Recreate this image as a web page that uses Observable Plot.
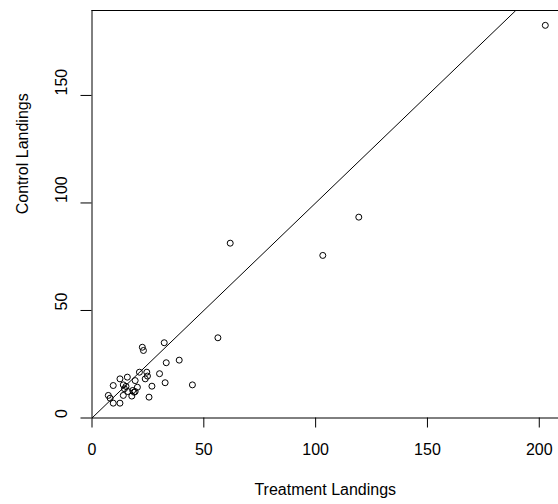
<!DOCTYPE html>
<html>
<head>
<meta charset="utf-8">
<script src="https://cdn.jsdelivr.net/npm/d3@7"></script>
<script src="https://cdn.jsdelivr.net/npm/@observablehq/plot@0.6"></script>
<style>
  html, body { margin: 0; padding: 0; background: #fff; }
  #chart { width: 558px; height: 504px; }
</style>
</head>
<body>
<div id="chart"></div>
<script>
const treatment = [202.7, 119.3, 103.2, 61.8, 56.3, 44.9, 39.0, 33.2, 32.3, 22.5, 23.0, 30.2, 32.7, 21.2, 24.5, 24.8, 23.8, 19.3, 26.8, 20.3, 18.2, 18.8, 19.3, 25.5, 17.8, 12.5, 15.8, 9.5, 14.0, 14.5, 16.0, 14.0, 7.3, 8.1, 9.5, 12.5, 15.2];
const control   = [182.6, 93.4, 75.6, 81.3, 37.3, 15.4, 26.9, 25.7, 35.0, 32.9, 31.4, 20.6, 16.4, 21.3, 21.3, 19.5, 18.2, 17.4, 14.8, 14.3, 12.8, 12.0, 12.3, 9.7, 10.2, 18.2, 19.0, 15.1, 15.4, 13.6, 12.3, 10.5, 10.5, 9.2, 6.9, 6.9, 14.7];
const xTicks = [0, 50, 100, 150, 200];
const yTicks = [0, 50, 100, 150];
const xLabel = "Treatment Landings";
const yLabel = "Control Landings";
const xMax = 208.6;
const yMax = 189.5;

const points = treatment.map((t, i) => ({t, c: control[i]}));
const font = "'Liberation Sans', Arial, Helvetica, sans-serif";

const chart = Plot.plot({
  width: 558,
  height: 504,
  marginLeft: 91.5,
  marginRight: 0,
  marginTop: 10,
  marginBottom: 86.5,
  style: {fontFamily: font, fontSize: "16px", color: "black", background: "white"},
  x: {domain: [0, xMax], label: null},
  y: {domain: [0, yMax], label: null},
  marks: [
    Plot.ruleY([0, yMax], {stroke: "black", strokeWidth: 1}),
    Plot.ruleX([0], {stroke: "black", strokeWidth: 1}),
    Plot.link([{x1: 0, y1: 0, x2: yMax, y2: yMax}], {x1: "x1", y1: "y1", x2: "x2", y2: "y2", stroke: "black", strokeWidth: 1}),
    Plot.dot(points, {x: "t", y: "c", r: 3, stroke: "black", fill: "none", strokeWidth: 1}),
    Plot.axisX({ticks: xTicks, tickSize: 10, tickPadding: 16, fontSize: 16, label: null, tickFormat: d => String(d)}),
    Plot.axisY({ticks: yTicks, tickSize: 11, tickFormat: () => "", label: null}),
    Plot.text(yTicks, {y: d => d, text: d => String(d), frameAnchor: "left", dx: -30, rotate: -90, fontSize: 16, fill: "black"}),
    Plot.text([xLabel], {text: d => d, frameAnchor: "bottom", dy: 77, fontSize: 16, fill: "black"}),
    Plot.text([yLabel], {text: d => d, frameAnchor: "left", dx: -69, rotate: -90, fontSize: 16, fill: "black"})
  ]
});
document.getElementById("chart").appendChild(chart);
</script>
</body>
</html>
